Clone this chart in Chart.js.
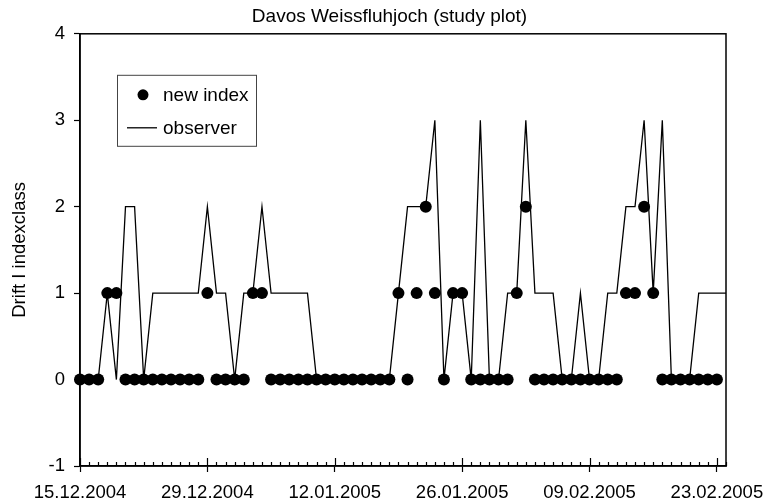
<!DOCTYPE html>
<html>
<head>
<meta charset="utf-8">
<script src="https://cdn.jsdelivr.net/npm/chart.js@4.4.1/dist/chart.umd.min.js"></script>
<style>
html, body { margin:0; padding:0; background:#fff; }
#wrap { width:768px; height:504px; }
</style>
</head>
<body>
<div id="wrap"><canvas id="myChart"></canvas></div>
<script>
// x = days since 15.12.2004
const dateLabels = ['15.12.2004', '29.12.2004', '12.01.2005', '26.01.2005', '09.02.2005', '23.02.2005'];
const newIndex = [0,0,0,1,1,0,0,0,0,0, 0,0,0,0,1,0,0,0,0,1, 1,0,0,0,0,0,0,0,0,0,
                  0,0,0,0,0,1,0,1,2,1, 0,1,1,0,0,0,0,0,1,2, 0,0,0,0,0,0,0,0,0,0,
                  1,1,2,1,0,0,0,0,0,0, 0];
const observer = [0,0,0,1,0,2,2,0,1,1, 1,1,1,1,2,1,1,0,1,1, 2,1,1,1,1,1,0,0,0,0,
                  0,0,0,0,0,1,2,2,2,3, 0,1,1,0,3,0,0,1,1,3, 1,1,1,0,0,1,0,0,1,1,
                  2,2,3,1,3,0,0,0,1,1, 1,1];
const yTicks = [-1, 0, 1, 2, 3, 4];

Chart.defaults.font.family = '"Liberation Sans", Arial, sans-serif';
Chart.defaults.color = '#000';

const framePlugin = {
    id: 'frame',
    afterLayout(chart) {
        // centre the title over the plot like the original
        chart.titleBlock.left = 53;
    },
    afterDraw(chart) {
        const ctx = chart.ctx;
        const a = chart.chartArea;
        const xs = chart.scales.x;
        ctx.save();
        ctx.strokeStyle = '#000';
        ctx.lineWidth = 1.5;
        ctx.strokeRect(a.left, a.top, a.right - a.left, a.bottom - a.top);
        // inside ticks on the date axis
        ctx.lineWidth = 1.2;
        ctx.beginPath();
        for (let d = 0; d <= xs.max; d++) {
            const x = Math.round(xs.getPixelForValue(d)) + 0.5;
            const len = d % 14 === 0 ? 8 : 4;
            ctx.moveTo(x, a.bottom);
            ctx.lineTo(x, a.bottom - len);
        }
        ctx.stroke();

        // legend box
        const lx = a.left + 37, ly = a.top + 41;
        ctx.lineWidth = 1;
        ctx.strokeStyle = '#444';
        ctx.strokeRect(lx + 0.5, ly + 0.5, 139, 71);
        ctx.fillStyle = '#000';
        ctx.beginPath();
        ctx.arc(lx + 26, ly + 20, 5.5, 0, Math.PI * 2);
        ctx.fill();
        ctx.strokeStyle = '#000';
        ctx.lineWidth = 1.3;
        ctx.beginPath();
        ctx.moveTo(lx + 10, ly + 53);
        ctx.lineTo(lx + 40, ly + 53);
        ctx.stroke();
        ctx.font = '19px "Liberation Sans", Arial, sans-serif';
        ctx.textBaseline = 'middle';
        ctx.fillText(chart.data.datasets[0].label, lx + 46, ly + 21);
        ctx.fillText(chart.data.datasets[1].label, lx + 46, ly + 54);
        ctx.restore();
    }
};

var ctx = document.getElementById('myChart').getContext('2d');
var myChart = new Chart(ctx, {
    data: {
        datasets: [{
            type: 'scatter',
            label: 'new index',
            data: newIndex.map((v, i) => ({x: i, y: v})),
            backgroundColor: '#000',
            borderWidth: 0,
            pointRadius: 6,
            pointHoverRadius: 6,
            clip: false,
            order: 0
        }, {
            type: 'line',
            label: 'observer',
            data: observer.map((v, i) => ({x: i, y: v})),
            borderColor: '#000',
            borderWidth: 1.3,
            pointRadius: 0,
            tension: 0,
            fill: false,
            order: 1
        }]
    },
    options: {
        responsive: true,
        maintainAspectRatio: false,
        animation: false,
        layout: { padding: { left: 0, right: 42, top: 0, bottom: 0 } },
        scales: {
            x: {
                type: 'linear',
                min: 0,
                max: 71,
                afterBuildTicks: s => {
                    s.ticks = [];
                    for (let d = 0; d <= 71; d++) s.ticks.push({ value: d });
                },
                afterFit: s => { s.height = 38; },
                ticks: {
                    autoSkip: false,
                    maxRotation: 0,
                    padding: 10,
                    font: { size: 18.5 },
                    callback: v => v % 14 === 0 ? dateLabels[v / 14] : ''
                },
                grid: {
                    drawOnChartArea: false,
                    tickLength: 6,
                    tickWidth: 1.2,
                    tickColor: c => (c.tick && c.tick.value % 14 === 0) ? '#000' : 'rgba(0,0,0,0)'
                },
                border: { color: '#000', width: 1.5 }
            },
            y: {
                min: -1,
                max: 4,
                afterBuildTicks: s => { s.ticks = yTicks.map(v => ({ value: v })); },
                afterFit: s => { s.width = 80; },
                ticks: { padding: 9, font: { size: 18.5 } },
                grid: { drawOnChartArea: false, tickLength: 6, tickWidth: 1.2, tickColor: '#000' },
                border: { color: '#000', width: 1.5 },
                title: {
                    display: true,
                    text: 'Drift I indexclass',
                    font: { size: 18.5 },
                    padding: { top: 9, bottom: 0 }
                }
            }
        },
        plugins: {
            legend: { display: false },
            tooltip: { enabled: false },
            title: {
                display: true,
                text: 'Davos Weissfluhjoch (study plot)',
                font: { size: 19, weight: 'normal' },
                color: '#000',
                padding: { top: 5, bottom: 6 }
            }
        }
    },
    plugins: [framePlugin]
});
</script>
</body>
</html>
